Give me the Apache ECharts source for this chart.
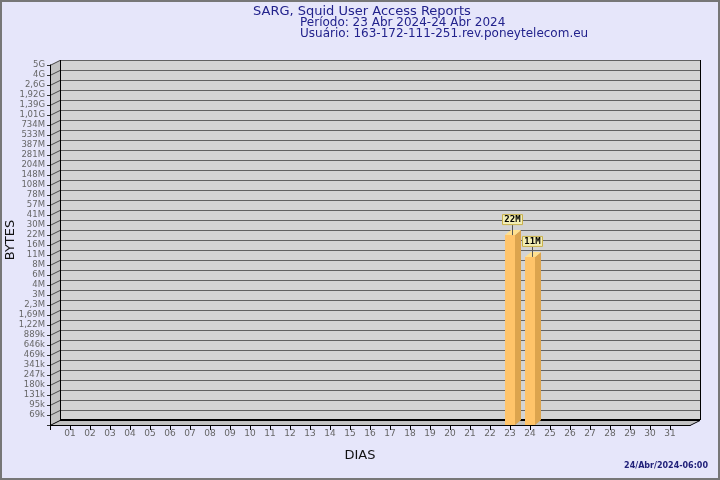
<!DOCTYPE html>
<html><head><meta charset="utf-8">
<script src="https://cdn.jsdelivr.net/npm/echarts@6/dist/echarts.min.js"></script>
<style>html,body{margin:0;padding:0;background:#e6e6fa}#c{width:720px;height:480px}</style>
</head><body><div id="c"></div>
<script>
// ---- data ----
const days = ['01','02','03','04','05','06','07','08','09','10','11','12','13','14','15','16','17','18','19','20','21','22','23','24','25','26','27','28','29','30','31'];
const yTickLabels = ['69k','95k','131k','180k','247k','341k','469k','646k','889k','1,22M','1,69M','2,3M','3M','4M','6M','8M','11M','16M','22M','30M','41M','57M','78M','108M','148M','204M','281M','387M','533M','734M','1,01G','1,39G','1,92G','2,6G','4G','5G'];
const barDays = [23, 24];
const barBytes = [21.7e6, 10.8e6];
const barLabels = ['22M', '11M'];
const titleLines = ['SARG, Squid User Access Reports', 'Período: 23 Abr 2024-24 Abr 2024', 'Usuário: 163-172-111-251.rev.poneytelecom.eu'];
const stampText = '24/Abr/2024-06:00';

// logarithmic byte scale: 36 steps from 50k to 5G
const SCALE_LO = 5e4, SCALE_HI = 5e9, STEPS = yTickLabels.length;
const toStep = v => STEPS * Math.log(v / SCALE_LO) / Math.log(SCALE_HI / SCALE_LO);

const FONT = 'DejaVu Sans';
const chart = echarts.init(document.getElementById('c'), null, {renderer: 'canvas'});

const DX = 10, DY = -5;   // wall depth
const BDX = 6, BDY = -5;  // bar depth

function wallsRender(params, api) {
  const bl = api.coord([0, 0]);
  const tl = api.coord([0, STEPS]);
  const br = api.coord([days.length + 1, 0]);
  const L = bl[0], R = br[0], B = bl[1], T = tl[1];
  const ch = [];
  ch.push({type: 'polygon', shape: {points: [[L + DX, T + DY], [R + DX, T + DY], [R + DX, B + DY], [L + DX, B + DY]]}, style: {fill: '#d3d3d3'}});
  ch.push({type: 'polygon', shape: {points: [[L, T], [L + DX, T + DY], [L + DX, B + DY], [L, B]]}, style: {fill: '#c2c2c2'}});
  ch.push({type: 'polygon', shape: {points: [[L, B], [L + DX, B + DY], [R + DX, B + DY], [R, B]]}, style: {fill: '#c2c2c2'}});
  for (let i = 1; i <= STEPS; i++) {
    const y = api.coord([0, i])[1];
    ch.push({type: 'line', shape: {x1: L + DX, y1: y + DY + 0.5, x2: R + DX, y2: y + DY + 0.5}, style: {stroke: '#606060', lineWidth: 1}});
    ch.push({type: 'line', shape: {x1: L, y1: y + 0.5, x2: L + DX, y2: y + DY + 0.5}, style: {stroke: '#4a4a4a', lineWidth: 1}});
  }
  ch.push({type: 'line', shape: {x1: L + DX + 0.5, y1: T + DY, x2: L + DX + 0.5, y2: B + DY}, style: {stroke: '#000', lineWidth: 1}});
  ch.push({type: 'line', shape: {x1: R + DX + 0.5, y1: T + DY, x2: R + DX + 0.5, y2: B + DY}, style: {stroke: '#000', lineWidth: 1}});
  ch.push({type: 'line', shape: {x1: L + DX, y1: B + DY, x2: R + DX, y2: B + DY}, style: {stroke: '#000', lineWidth: 2}});
  ch.push({type: 'line', shape: {x1: L, y1: B + 0.5, x2: L + DX, y2: B + DY + 0.5}, style: {stroke: '#000', lineWidth: 1}});
  ch.push({type: 'line', shape: {x1: R, y1: B + 0.5, x2: R + DX, y2: B + DY + 0.5}, style: {stroke: '#000', lineWidth: 1}});
  return {type: 'group', children: ch};
}

function barsRender(params, api) {
  const top = api.coord([api.value(0), api.value(1)]);
  const base = api.coord([api.value(0), 0]);
  const cx = top[0], yt = top[1], yb = base[1];
  const x0 = cx - 5, x1 = cx + 5;
  const lab = barLabels[params.dataIndex];
  return {type: 'group', children: [
    {type: 'polygon', shape: {points: [[x1, yt], [x1 + BDX, yt + BDY], [x1 + BDX, yb + BDY], [x1, yb]]}, style: {fill: '#dca44e'}},
    {type: 'polygon', shape: {points: [[x0, yt], [x0 + BDX, yt + BDY], [x1 + BDX, yt + BDY], [x1, yt]]}, style: {fill: '#ffe08e'}},
    {type: 'rect', shape: {x: x0, y: yt, width: x1 - x0, height: yb - yt}, style: {fill: '#ffc46a'}},
    {type: 'line', shape: {x1: cx + 2.5, y1: yt - 10, x2: cx + 2.5, y2: yt}, style: {stroke: '#555', lineWidth: 1}},
    {type: 'rect', shape: {x: cx - 7.5, y: yt - 20.5, width: 20, height: 10}, style: {fill: '#f2eeb4', stroke: '#c8b04a', lineWidth: 1}},
    {type: 'text', x: cx + 2.5, y: yt - 15, style: {text: lab, fill: '#000', font: 'bold 9px "DejaVu Sans Mono"', align: 'center', verticalAlign: 'middle'}}
  ]};
}

const barData = barDays.map((d, i) => [d, toStep(barBytes[i]), barBytes[i]]);

chart.setOption({
  backgroundColor: '#e6e6fa',
  animation: false,
  grid: {left: 50, right: 30, top: 65, bottom: 55, containLabel: false, outerBoundsMode: 'none'},
  xAxis: {
    type: 'value', min: 0, max: days.length + 1, interval: 1, z: 5,
    axisLine: {show: true, lineStyle: {color: '#000', width: 1}},
    axisTick: {show: true, length: 5, lineStyle: {color: '#000'}, customValues: [0].concat(days.map((d, i) => i + 1))},
    axisLabel: {show: true, customValues: days.map((d, i) => i + 1), formatter: v => days[v - 1] || '', color: '#666', fontFamily: FONT, fontSize: 9, margin: 4},
    splitLine: {show: false}
  },
  yAxis: {
    type: 'value', min: 0, max: STEPS, interval: 1, z: 5,
    axisLine: {show: true, lineStyle: {color: '#000', width: 1}},
    axisTick: {show: true, length: 3, lineStyle: {color: '#333'}},
    axisLabel: {formatter: v => v === 0 ? '' : (yTickLabels[v - 1] || ''), color: '#666', fontFamily: FONT, fontSize: 8.5, margin: 5},
    splitLine: {show: false}
  },
  title: [
    {text: titleLines[0], left: 253, top: 5, padding: 0, textStyle: {fontFamily: FONT, fontSize: 13, fontWeight: 'normal', color: '#22228c'}},
    {text: titleLines[1], left: 300, top: 17, padding: 0, textStyle: {fontFamily: FONT, fontSize: 12, fontWeight: 'normal', color: '#22228c'}},
    {text: titleLines[2], left: 300, top: 28, padding: 0, textStyle: {fontFamily: FONT, fontSize: 12, fontWeight: 'normal', color: '#22228c'}}
  ],
  graphic: [
    {type: 'text', x: 11, y: 240, rotation: Math.PI / 2, style: {text: 'BYTES', font: '13px "DejaVu Sans"', fill: '#111', align: 'center', verticalAlign: 'middle'}},
    {type: 'text', x: 360, y: 456, style: {text: 'DIAS', font: '13px "DejaVu Sans"', fill: '#111', align: 'center', verticalAlign: 'middle'}},
    {type: 'text', x: 708, y: 466, style: {text: stampText, font: 'bold 8px "DejaVu Sans"', fill: '#22227a', align: 'right', verticalAlign: 'middle'}},
    {type: 'rect', shape: {x: 1, y: 1, width: 718, height: 478}, style: {fill: null, stroke: '#777', lineWidth: 2}, z: 100}
  ],
  series: [
    {type: 'custom', data: [[0, 0]], renderItem: wallsRender, z: 1, silent: true},
    {type: 'custom', data: barData, renderItem: barsRender, z: 3, encode: {x: 0, y: 1}}
  ]
});
</script></body></html>
